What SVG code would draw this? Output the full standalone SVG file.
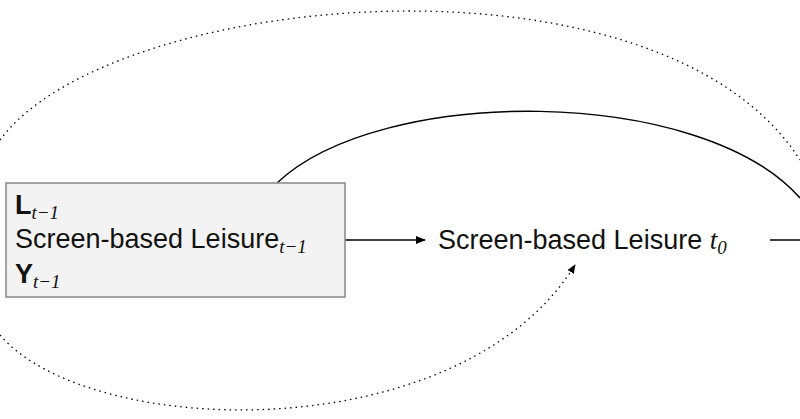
<svg xmlns="http://www.w3.org/2000/svg" width="800" height="419" viewBox="0 0 800 419">
<style>
text{font-family:"Liberation Sans",Arial,sans-serif;font-size:27px;fill:#111}
.m{font-family:"Liberation Serif",serif;font-style:italic;font-size:19px}
.c{fill:none;stroke:#000;stroke-width:1.5}
.d{fill:none;stroke:#000;stroke-width:1.3;stroke-dasharray:1.5 4}
</style>
<defs><marker id="a" viewBox="0 0 10 10" refX="9" refY="5" markerWidth="7" markerHeight="7" orient="auto"><path d="M0,1 L10,5 L0,9 z" fill="#000"/></marker></defs>
<rect width="800" height="419" fill="#fff"/>
<g id="connectors">
<path class="d" d="M0,140 C110,-10 660,-60 800,160"/>
<path class="d" d="M0,335 C90,440 460,450 575,265" marker-end="url(#a)"/>
<path class="c" d="M277,183 C380,85 700,85 800,198"/>
<line class="c" x1="345" y1="240" x2="425" y2="240" marker-end="url(#a)"/>
<line class="c" x1="770" y1="240" x2="800" y2="240"/>
</g>
<g id="box">
<rect x="6" y="183" width="339" height="114" fill="#f3f3f3" stroke="#888" stroke-width="1.5"/>
<text x="15" y="214" font-weight="bold">L<tspan class="m" font-weight="normal" dy="5">t−1</tspan></text>
<text x="15" y="248">Screen-based Leisure<tspan class="m" dy="5">t−1</tspan></text>
<text x="15" y="283" font-weight="bold">Y<tspan class="m" font-weight="normal" dy="5">t−1</tspan></text>
</g>
<g id="sbl0">
<text x="438" y="249">Screen-based Leisure <tspan font-family="Liberation Serif" font-style="italic">t</tspan><tspan class="m" dy="5">0</tspan></text>
</g>
</svg>
